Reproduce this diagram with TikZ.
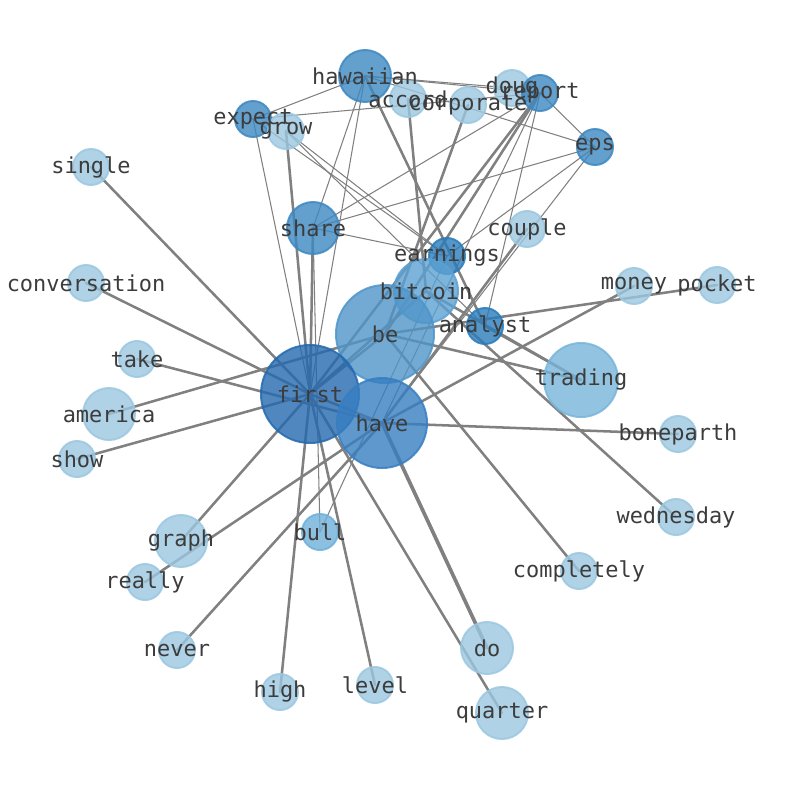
\documentclass[tikz,border=0pt]{standalone}
\usepackage{fontspec}
\setmonofont{DejaVu Sans Mono}
\definecolor{leafblue}{RGB}{155,199,224}
\definecolor{bullblue}{RGB}{111,176,218}
\definecolor{tradeblue}{RGB}{119,181,218}
\definecolor{coinblue}{RGB}{92,161,211}
\definecolor{beblue}{RGB}{79,149,201}
\definecolor{hubblue}{RGB}{61,136,193}
\definecolor{haveblue}{RGB}{55,126,193}
\definecolor{keyblue}{RGB}{42,124,186}
\definecolor{firstblue}{RGB}{36,105,174}
\definecolor{labelgray}{RGB}{60,60,60}
\definecolor{edgegray}{RGB}{128,128,128}
\pgfdeclarelayer{edges}
\pgfsetlayers{edges,main}

\begin{document}
\begin{tikzpicture}[x=0.025cm,y=-0.025cm]
	\def \rone{0.9cm}
	\def \rtwo{1.3cm}
	\def \rthree{1.6cm}
	\def \rfour{1.85cm}
	\def \rfive{2.25cm}
	\def \rsix{2.45cm}
	\tikzstyle{w-node}=[circle,inner sep=0pt,line width=1.4pt,fill opacity=0.8,draw opacity=0.85]
	\tikzstyle{t-node}=[text=labelgray,font=\ttfamily\fontsize{15.6pt}{18pt}\selectfont,inner sep=0pt]
	\tikzstyle{heavy}=[draw=edgegray,line width=1.8pt,line cap=round]
	\tikzstyle{light}=[draw=edgegray,line width=0.75pt,line cap=round]
	\useasboundingbox (0,0) rectangle (794,790);

	% top cluster
	\node[w-node,minimum size=\rtwo,fill=hubblue,draw=hubblue]		(hawaiian)	at (365,76)	{};
	\node[w-node,minimum size=\rone,fill=leafblue,draw=leafblue]	(accord)	at (408,99)	{};
	\node[w-node,minimum size=\rone,fill=leafblue,draw=leafblue]	(corporate)	at (468,105)	{};
	\node[w-node,minimum size=\rone,fill=leafblue,draw=leafblue]	(doug)		at (512,88)	{};
	\node[w-node,minimum size=\rone,fill=hubblue,draw=hubblue]		(report)	at (540,93)	{};
	\node[w-node,minimum size=\rone,fill=hubblue,draw=hubblue]		(eps)		at (595,147)	{};
	\node[w-node,minimum size=\rone,fill=hubblue,draw=hubblue]		(expect)	at (253,119)	{};
	\node[w-node,minimum size=\rone,fill=leafblue,draw=leafblue]	(grow)		at (286,131)	{};
	\node[w-node,minimum size=\rtwo,fill=hubblue,draw=hubblue]		(share)		at (313,228)	{};
	\node[w-node,minimum size=\rone,fill=leafblue,draw=leafblue]	(couple)	at (527,229)	{};
	\node[w-node,minimum size=\rone,fill=keyblue,draw=keyblue]		(earnings)	at (447,256)	{};

	% middle
	\node[w-node,minimum size=\rthree,fill=coinblue,draw=coinblue]	(bitcoin)	at (426,291)	{};
	\node[w-node,minimum size=\rsix,fill=beblue,draw=beblue]		(be)		at (385,334)	{};
	\node[w-node,minimum size=\rone,fill=keyblue,draw=keyblue]		(analyst)	at (485,326)	{};
	\node[w-node,minimum size=\rfour,fill=tradeblue,draw=tradeblue]	(trading)	at (581,380)	{};
	\node[w-node,minimum size=\rsix,fill=firstblue,draw=firstblue]	(first)		at (310,394)	{};
	\node[w-node,minimum size=\rfive,fill=haveblue,draw=haveblue]	(have)		at (382,423)	{};
	\node[w-node,minimum size=\rone,fill=bullblue,draw=bullblue]	(bull)		at (320,532)	{};

	% outer ring
	\node[w-node,minimum size=\rone,fill=leafblue,draw=leafblue]	(single)	at (91,167)	{};
	\node[w-node,minimum size=\rone,fill=leafblue,draw=leafblue]	(conversation)	at (86,283)	{};
	\node[w-node,minimum size=\rone,fill=leafblue,draw=leafblue]	(take)		at (137,359)	{};
	\node[w-node,minimum size=\rtwo,fill=leafblue,draw=leafblue]	(america)	at (109,414)	{};
	\node[w-node,minimum size=\rone,fill=leafblue,draw=leafblue]	(show)		at (77,459)	{};
	\node[w-node,minimum size=\rtwo,fill=leafblue,draw=leafblue]	(graph)		at (181,541)	{};
	\node[w-node,minimum size=\rone,fill=leafblue,draw=leafblue]	(really)	at (145,582)	{};
	\node[w-node,minimum size=\rone,fill=leafblue,draw=leafblue]	(never)		at (177,650)	{};
	\node[w-node,minimum size=\rone,fill=leafblue,draw=leafblue]	(high)		at (280,692)	{};
	\node[w-node,minimum size=\rone,fill=leafblue,draw=leafblue]	(level)		at (375,685)	{};
	\node[w-node,minimum size=\rtwo,fill=leafblue,draw=leafblue]	(do)		at (487,648)	{};
	\node[w-node,minimum size=\rtwo,fill=leafblue,draw=leafblue]	(quarter)	at (502,713)	{};
	\node[w-node,minimum size=\rone,fill=leafblue,draw=leafblue]	(completely)	at (579,571)	{};
	\node[w-node,minimum size=\rone,fill=leafblue,draw=leafblue]	(wednesday)	at (676,517)	{};
	\node[w-node,minimum size=\rone,fill=leafblue,draw=leafblue]	(boneparth)	at (678,434)	{};
	\node[w-node,minimum size=\rone,fill=leafblue,draw=leafblue]	(money)		at (634,286)	{};
	\node[w-node,minimum size=\rone,fill=leafblue,draw=leafblue]	(pocket)	at (717,285)	{};

	\begin{pgfonlayer}{edges}
	\path[heavy]
		(first.center)	edge	(single.center)
		(first.center)	edge	(conversation.center)
		(first.center)	edge	(show.center)
		(first.center)	edge	(graph.center)
		(first.center)	edge	(high.center)
		(first.center)	edge	(level.center)
		(first.center)	edge	(quarter.center)
		(first.center)	edge	(grow.center)
		(first.center)	edge	(share.center)
		(first.center)	edge	(bitcoin.center)
		(first.center)	edge	(be.center)
		(first.center)	edge	(have.center)
		(first.center)	edge	(report.center)
		%
		(have.center)	edge	(take.center)
		(have.center)	edge	(really.center)
		(have.center)	edge	(never.center)
		(have.center)	edge	(boneparth.center)
		(have.center)	edge	(money.center)
		(have.center)	edge	(couple.center)
		(have.center)	edge[line width=2.6pt]	(do.center)
		%
		(be.center)	edge	(america.center)
		(be.center)	edge	(completely.center)
		(be.center)	edge	(trading.center)
		(be.center)	edge	(pocket.center)
		(be.center)	edge	(corporate.center)
		(be.center)	edge	(report.center)
		%
		(bitcoin.center)	edge	(wednesday.center)
		(bitcoin.center)	edge	(trading.center)
		(bitcoin.center)	edge	(accord.center)
		(analyst.center)	edge	(trading.center)
		(analyst.center)	edge	(hawaiian.center);
	\path[light]
		(hawaiian.center)	edge	(expect.center)
		(hawaiian.center)	edge	(doug.center)
		(hawaiian.center)	edge	(report.center)
		(hawaiian.center)	edge	(share.center)
		(hawaiian.center)	edge	(first.center)
		(hawaiian.center)	edge	(eps.center)
		%
		(expect.center)	edge	(report.center)
		(expect.center)	edge	(first.center)
		(expect.center)	edge	(earnings.center)
		(grow.center)	edge	(earnings.center)
		(grow.center)	edge	(analyst.center)
		%
		(report.center)	edge	(share.center)
		(report.center)	edge	(eps.center)
		(report.center)	edge	(have.center)
		(report.center)	edge	(analyst.center)
		(eps.center)	edge	(share.center)
		(eps.center)	edge	(earnings.center)
		(eps.center)	edge	(have.center)
		%
		(share.center)	edge	(earnings.center)
		(share.center)	edge	(bull.center)
		(bull.center)	edge	(earnings.center);
	\end{pgfonlayer}

	% labels
	\node[t-node]	(hawaiian-t)	at (hawaiian)	{hawaiian};
	\node[t-node]	(accord-t)	at (accord)	{accord};
	\node[t-node]	(corporate-t)	at (corporate)	{corporate};
	\node[t-node]	(doug-t)	at (doug)	{doug};
	\node[t-node]	(report-t)	at (report)	{report};
	\node[t-node]	(eps-t)		at (eps)	{eps};
	\node[t-node]	(expect-t)	at (expect)	{expect};
	\node[t-node]	(grow-t)	at (grow)	{grow};
	\node[t-node]	(share-t)	at (share)	{share};
	\node[t-node]	(couple-t)	at (couple)	{couple};
	\node[t-node]	(earnings-t)	at (earnings)	{earnings};
	\node[t-node]	(bitcoin-t)	at (bitcoin)	{bitcoin};
	\node[t-node]	(be-t)		at (be)		{be};
	\node[t-node]	(analyst-t)	at (analyst)	{analyst};
	\node[t-node]	(trading-t)	at (trading)	{trading};
	\node[t-node]	(first-t)	at (first)	{first};
	\node[t-node]	(have-t)	at (have)	{have};
	\node[t-node]	(bull-t)	at (bull)	{bull};
	\node[t-node]	(single-t)	at (single)	{single};
	\node[t-node]	(conversation-t)	at (conversation)	{conversation};
	\node[t-node]	(take-t)	at (take)	{take};
	\node[t-node]	(america-t)	at (america)	{america};
	\node[t-node]	(show-t)	at (show)	{show};
	\node[t-node]	(graph-t)	at (graph)	{graph};
	\node[t-node]	(really-t)	at (really)	{really};
	\node[t-node]	(never-t)	at (never)	{never};
	\node[t-node]	(high-t)	at (high)	{high};
	\node[t-node]	(level-t)	at (level)	{level};
	\node[t-node]	(do-t)		at (do)		{do};
	\node[t-node]	(quarter-t)	at (quarter)	{quarter};
	\node[t-node]	(completely-t)	at (completely)	{completely};
	\node[t-node]	(wednesday-t)	at (wednesday)	{wednesday};
	\node[t-node]	(boneparth-t)	at (boneparth)	{boneparth};
	\node[t-node]	(money-t)	at (money)	{money};
	\node[t-node]	(pocket-t)	at (pocket)	{pocket};
\end{tikzpicture}
\end{document}
